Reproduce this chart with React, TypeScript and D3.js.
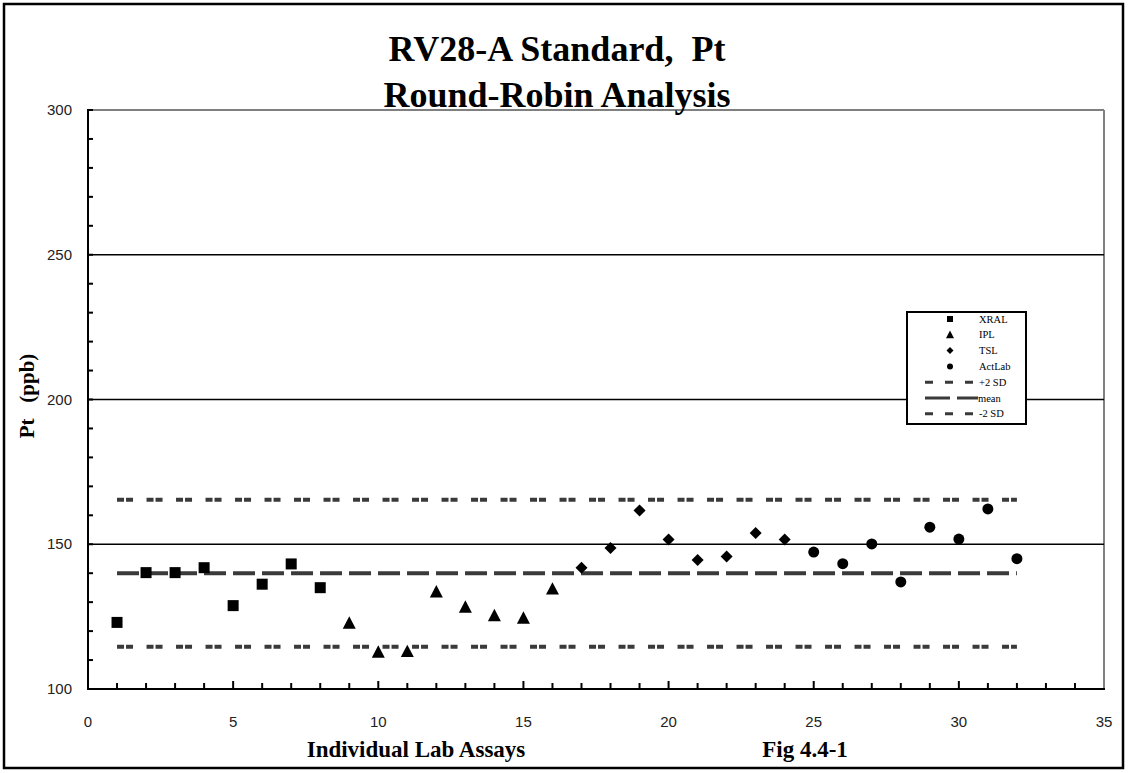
import React from "react";
import * as d3 from "d3";

const xralX = [1, 2, 3, 4, 5, 6, 7, 8];
const xralY = [123, 140.2, 140.2, 141.9, 128.8, 136.2, 143.2, 135];
const iplX = [9, 10, 11, 12, 13, 14, 15, 16];
const iplY = [122.8, 112.8, 113, 133.6, 128.3, 125.4, 124.5, 134.6];
const tslX = [17, 18, 19, 20, 21, 22, 23, 24];
const tslY = [141.9, 148.7, 161.7, 151.6, 144.6, 145.8, 153.9, 151.6];
const actX = [25, 26, 27, 28, 29, 30, 31, 32];
const actY = [147.3, 143.3, 150.1, 137, 155.9, 151.8, 162.2, 145];

const refX = [1, 32];
const plus2SD = 165.4;
const meanVal = 140;
const minus2SD = 114.6;

const xTicks = [0, 5, 10, 15, 20, 25, 30, 35];
const yTicks = [100, 150, 200, 250, 300];
const gridVals = [150, 200, 250];

const legendLabels = ["XRAL", "IPL", "TSL", "ActLab", "+2 SD", "mean", "-2 SD"];

const W = 1130;
const H = 773;
const L = 88, R = 1104, T = 110, B = 689;

const x = d3.scaleLinear().domain([0, 35]).range([L, R]);
const y = d3.scaleLinear().domain([100, 300]).range([B, T]);

const sdDash = "7 2 7 13.5";
const meanDash = "22 7";
const lineColor = "#3a3a3a";
const serif = "Liberation Serif, Times New Roman, serif";
const sans = "Liberation Sans, Arial, sans-serif";

function Square({ cx, cy, s }: { cx: number; cy: number; s: number }) {
  return <rect x={cx - s / 2} y={cy - s / 2} width={s} height={s} fill="#000" />;
}
function Triangle({ cx, cy, s }: { cx: number; cy: number; s: number }) {
  const h = s * 0.95;
  return (
    <path
      d={`M${cx},${cy - h / 2 - 1} L${cx + s / 2 + 0.5},${cy + h / 2} L${cx - s / 2 - 0.5},${cy + h / 2} Z`}
      fill="#000"
    />
  );
}
function Diamond({ cx, cy, s }: { cx: number; cy: number; s: number }) {
  const r = s / 2 + 0.5;
  return <path d={`M${cx},${cy - r} L${cx + r},${cy} L${cx},${cy + r} L${cx - r},${cy} Z`} fill="#000" />;
}
function Dot({ cx, cy, s }: { cx: number; cy: number; s: number }) {
  return <circle cx={cx} cy={cy} r={s / 2} fill="#000" />;
}

export default function App() {
  const hline = (v: number) => {
    const gen = d3
      .line<number>()
      .x((d) => x(d))
      .y(() => y(v));
    return gen(refX) || "";
  };

  const minorX = d3.range(1, 35);
  const minorY = d3.range(110, 300, 10);

  const legX = 907, legY = 312, legW = 119, legH = 112;
  const rowY = (i: number) => legY + 7 + i * 15.8;

  return (
    <svg
      width={W}
      height={H}
      style={{ position: "absolute", left: 0, top: 0, display: "block", background: "#fff" }}
    >
      <rect x={0} y={0} width={W} height={H} fill="#fff" />
      <rect x={4} y={4} width={1119} height={764} fill="none" stroke="#000" strokeWidth={2.5} />

      {/* plot frame */}
      <line x1={L} y1={T} x2={R} y2={T} stroke="#808080" strokeWidth={2} />
      <line x1={R} y1={T} x2={R} y2={B} stroke="#808080" strokeWidth={2} />

      {/* gridlines */}
      {gridVals.map((v) => (
        <line key={v} x1={L} x2={R} y1={y(v)} y2={y(v)} stroke="#000" strokeWidth={1.5} />
      ))}

      {/* reference lines */}
      <path d={hline(plus2SD)} stroke={lineColor} strokeWidth={4} strokeDasharray={sdDash} fill="none" />
      <path d={hline(meanVal)} stroke={lineColor} strokeWidth={4} strokeDasharray={meanDash} fill="none" />
      <path d={hline(minus2SD)} stroke={lineColor} strokeWidth={4} strokeDasharray={sdDash} fill="none" />

      {/* axes */}
      <line x1={L} y1={T - 1} x2={L} y2={B + 1} stroke="#000" strokeWidth={2} />
      <line x1={L - 1} y1={B} x2={R + 1} y2={B} stroke="#000" strokeWidth={2} />
      {minorX.map((t) => (
        <line key={"mx" + t} x1={x(t)} x2={x(t)} y1={B} y2={B - (t % 5 === 0 ? 8 : 6)} stroke="#000" strokeWidth={2} />
      ))}
      {minorY.map((t) => (
        <line key={"my" + t} x1={L} x2={L + 5} y1={y(t)} y2={y(t)} stroke="#000" strokeWidth={2} />
      ))}
      <line x1={L} x2={L + 5} y1={T} y2={T} stroke="#000" strokeWidth={2} />

      {/* tick labels */}
      {yTicks.map((t) => (
        <text key={"yl" + t} x={72} y={y(t) + 5} textAnchor="end" fontFamily={sans} fontSize={15} fill="#222">
          {t}
        </text>
      ))}
      {xTicks.map((t) => (
        <text key={"xl" + t} x={x(t)} y={727} textAnchor="middle" fontFamily={sans} fontSize={15} fill="#222">
          {t}
        </text>
      ))}

      {/* markers */}
      {xralX.map((d, i) => (
        <Square key={"s" + i} cx={x(d)} cy={y(xralY[i])} s={11} />
      ))}
      {iplX.map((d, i) => (
        <Triangle key={"t" + i} cx={x(d)} cy={y(iplY[i])} s={12} />
      ))}
      {tslX.map((d, i) => (
        <Diamond key={"d" + i} cx={x(d)} cy={y(tslY[i])} s={11} />
      ))}
      {actX.map((d, i) => (
        <Dot key={"c" + i} cx={x(d)} cy={y(actY[i])} s={11} />
      ))}

      {/* titles */}
      <text x={557} y={61} textAnchor="middle" fontFamily={serif} fontWeight="bold" fontSize={36} fill="#000">
        RV28-A Standard,{"\u00a0\u00a0"}Pt
      </text>
      <text x={557} y={107} textAnchor="middle" fontFamily={serif} fontWeight="bold" fontSize={36} fill="#000">
        Round-Robin Analysis
      </text>
      <text
        transform="translate(34,396) rotate(-90)"
        textAnchor="middle"
        fontFamily={serif}
        fontWeight="bold"
        fontSize={21}
        fill="#000"
      >
        Pt{"\u00a0\u00a0\u00a0"}(ppb)
      </text>
      <text x={416} y={757} textAnchor="middle" fontFamily={serif} fontWeight="bold" fontSize={23} fill="#000">
        Individual Lab Assays
      </text>
      <text x={805} y={757} textAnchor="middle" fontFamily={serif} fontWeight="bold" fontSize={23} fill="#000">
        Fig 4.4-1
      </text>

      {/* legend */}
      <rect x={legX} y={legY} width={legW} height={legH} fill="#fff" stroke="#000" strokeWidth={2} />
      {legendLabels.map((lab, i) => {
        const cy = rowY(i);
        const mx = 950;
        let mark = null;
        if (i === 0) mark = <Square cx={mx} cy={cy} s={6} />;
        else if (i === 1) mark = <Triangle cx={mx} cy={cy} s={7} />;
        else if (i === 2) mark = <Diamond cx={mx} cy={cy} s={6} />;
        else if (i === 3) mark = <Dot cx={mx} cy={cy} s={6} />;
        else if (i === 5)
          mark = <line x1={925} x2={978} y1={cy} y2={cy} stroke={lineColor} strokeWidth={3} strokeDasharray="25 7 25" />;
        else mark = <line x1={925} x2={974} y1={cy} y2={cy} stroke={lineColor} strokeWidth={3} strokeDasharray="8 12" />;
        return (
          <g key={lab}>
            {mark}
            <text x={i === 5 ? 978 : 979} y={cy + 3.5} fontFamily={serif} fontSize={10.5} fill="#000">
              {lab}
            </text>
          </g>
        );
      })}
    </svg>
  );
}
